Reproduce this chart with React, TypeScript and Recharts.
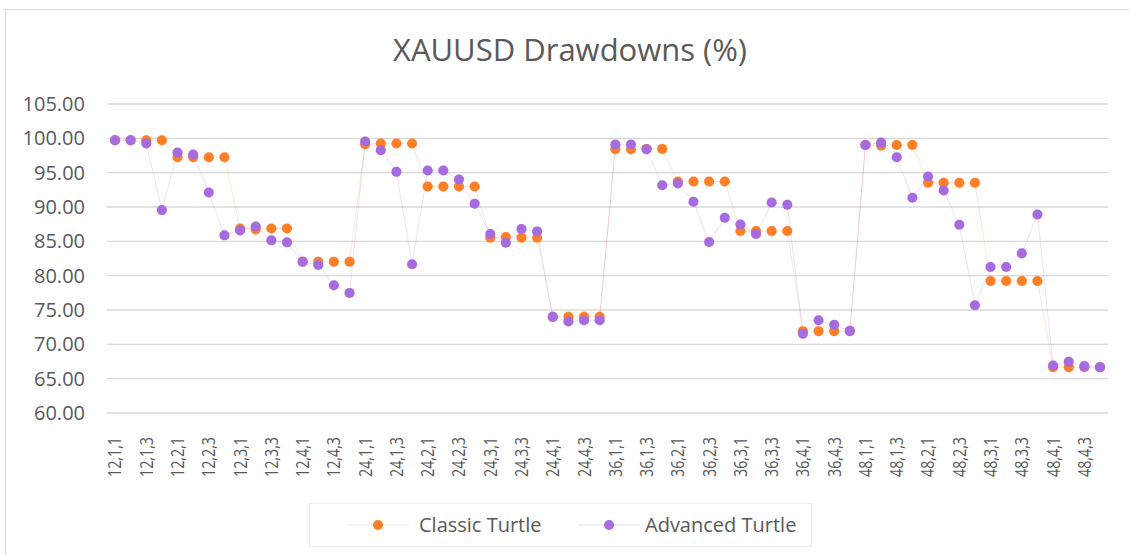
import React from 'react';
import { LineChart, Line, XAxis, YAxis, CartesianGrid, Legend } from 'recharts';

const categories: string[] = [
  '12,1,1','12,1,2','12,1,3','12,1,4','12,2,1','12,2,2','12,2,3','12,2,4',
  '12,3,1','12,3,2','12,3,3','12,3,4','12,4,1','12,4,2','12,4,3','12,4,4',
  '24,1,1','24,1,2','24,1,3','24,1,4','24,2,1','24,2,2','24,2,3','24,2,4',
  '24,3,1','24,3,2','24,3,3','24,3,4','24,4,1','24,4,2','24,4,3','24,4,4',
  '36,1,1','36,1,2','36,1,3','36,1,4','36,2,1','36,2,2','36,2,3','36,2,4',
  '36,3,1','36,3,2','36,3,3','36,3,4','36,4,1','36,4,2','36,4,3','36,4,4',
  '48,1,1','48,1,2','48,1,3','48,1,4','48,2,1','48,2,2','48,2,3','48,2,4',
  '48,3,1','48,3,2','48,3,3','48,3,4','48,4,1','48,4,2','48,4,3','48,4,4',
];

const classicTurtle: number[] = [
  99.72, 99.72, 99.72, 99.72, 97.25, 97.25, 97.25, 97.25,
  86.88, 86.74, 86.88, 86.88, 82.04, 82.04, 82.04, 82.04,
  99.14, 99.24, 99.24, 99.24, 92.99, 92.99, 92.99, 92.99,
  85.53, 85.62, 85.53, 85.53, 74.0, 74.0, 74.0, 74.0,
  98.41, 98.41, 98.46, 98.46, 93.71, 93.71, 93.71, 93.71,
  86.5, 86.5, 86.5, 86.5, 71.92, 71.92, 71.92, 71.92,
  99.04, 98.94, 99.04, 99.04, 93.52, 93.52, 93.52, 93.52,
  79.23, 79.23, 79.23, 79.23, 66.68, 66.68, 66.68, 66.68,
];

const advancedTurtle: number[] = [
  99.72, 99.72, 99.24, 89.55, 97.93, 97.64, 92.11, 85.87,
  86.59, 87.17, 85.14, 84.85, 82.04, 81.55, 78.6, 77.49,
  99.53, 98.27, 95.12, 81.65, 95.31, 95.31, 94.0, 90.47,
  86.06, 84.8, 86.79, 86.45, 74.0, 73.32, 73.51, 73.51,
  99.09, 99.09, 98.41, 93.18, 93.42, 90.76, 84.9, 88.43,
  87.46, 86.06, 90.66, 90.32, 71.53, 73.51, 72.84, 71.96,
  99.04, 99.38, 97.25, 91.34, 94.44, 92.41, 87.42, 75.69,
  81.26, 81.26, 83.25, 88.92, 66.93, 67.46, 66.83, 66.68,
];

const yTicks: number[] = [60, 65, 70, 75, 80, 85, 90, 95, 100, 105];

const seriesNames = ['Classic Turtle', 'Advanced Turtle'];
const ORANGE = '#FF7F27';
const PURPLE = '#A66BDE';
const TEXT = '#595959';
const FONT = '"Open Sans", sans-serif';

const data = categories.map((c, i) => ({
  name: c,
  classic: classicTurtle[i],
  advanced: advancedTurtle[i],
}));

const XTick = (props: any) => {
  const { x, y, payload } = props;
  const ty = y + 16;
  return (
    <text
      x={x}
      y={ty}
      transform={`rotate(-90, ${x}, ${ty})`}
      textAnchor="end"
      dy="0.36em"
      fill={TEXT}
      fontSize={18}
      textLength={40}
      lengthAdjust="spacingAndGlyphs"
      fontFamily={FONT}
    >
      {payload.value}
    </text>
  );
};

const LegendContent = () => {
  const items = [
    { name: seriesNames[0], color: ORANGE, lx: 38, tx: 110 },
    { name: seriesNames[1], color: PURPLE, lx: 269, tx: 336 },
  ];
  return (
    <svg width={503} height={44} style={{ display: 'block' }}>
      <rect x={0.5} y={0.5} width={502} height={43} fill="none" stroke="#EDEDED" strokeWidth={1} />
      {items.map((it, idx) => (
        <g key={idx}>
          <line x1={it.lx} x2={it.lx + 62} y1={22} y2={22} stroke={it.color} strokeOpacity={0.25} strokeWidth={1} />
          <circle cx={it.lx + 31} cy={22} r={5} fill={it.color} />
          <text x={it.tx} y={22} dy="0.35em" fill={TEXT} fontSize={20} fontFamily={FONT}>
            {it.name}
          </text>
        </g>
      ))}
    </svg>
  );
};

export default function App() {
  return (
    <div style={{ position: 'absolute', left: 0, top: 0, width: 1129, height: 555, overflow: 'hidden', background: '#fff' }}>
      <div
        style={{
          position: 'absolute',
          left: 5,
          top: 9,
          width: 1140,
          height: 560,
          border: '1px solid #D9D9D9',
          boxSizing: 'border-box',
        }}
      />
      <div
        style={{
          position: 'absolute',
          left: 0,
          top: 34,
          width: 1140,
          textAlign: 'center',
          fontFamily: FONT,
          fontSize: 31,
          lineHeight: '31px',
          color: TEXT,
        }}
      >
        XAUUSD Drawdowns (%)
      </div>
      <div style={{ position: 'absolute', left: 0, top: 0 }}>
        <LineChart
          width={1129}
          height={555}
          data={data}
          margin={{ top: 104, right: 21, bottom: 38, left: 0 }}
        >
          <CartesianGrid vertical={false} stroke="#D9D9D9" strokeWidth={1.4} />
          <XAxis
            dataKey="name"
            interval={1}
            tick={<XTick />}
            tickLine={false}
            axisLine={false}
            height={60}
            padding={{ left: 8, right: 8 }}
          />
          <YAxis
            domain={[60, 105]}
            ticks={yTicks}
            tickFormatter={(v: number) => v.toFixed(2)}
            width={107}
            tickLine={false}
            axisLine={false}
            tickSize={0}
            tickMargin={22}
            tick={{ fill: TEXT, fontSize: 20, fontFamily: FONT }}
          />
          <Legend
            content={<LegendContent />}
            wrapperStyle={{ position: 'absolute', left: 309, top: 503, width: 503, height: 44 }}
          />
          <Line
            type="linear"
            dataKey="classic"
            name={seriesNames[0]}
            stroke={ORANGE}
            strokeOpacity={0.25}
            strokeWidth={0.8}
            dot={{ r: 5, fill: ORANGE, stroke: ORANGE, strokeWidth: 0.5 }}
            activeDot={false}
            isAnimationActive={false}
          />
          <Line
            type="linear"
            dataKey="advanced"
            name={seriesNames[1]}
            stroke={PURPLE}
            strokeOpacity={0.25}
            strokeWidth={0.8}
            dot={{ r: 5, fill: PURPLE, stroke: PURPLE, strokeWidth: 0.5 }}
            activeDot={false}
            isAnimationActive={false}
          />
        </LineChart>
      </div>
    </div>
  );
}
